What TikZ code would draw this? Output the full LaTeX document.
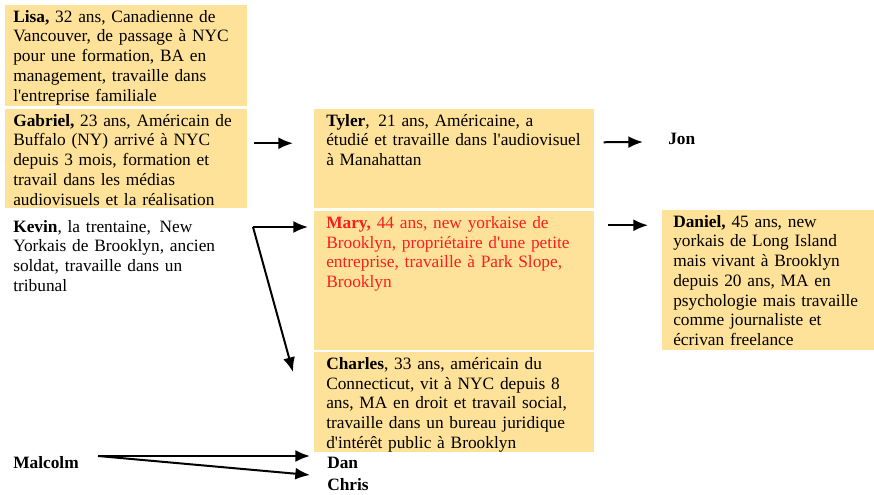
\documentclass[tikz,border=0pt]{standalone}
\usepackage{fontspec}
\setmainfont{Liberation Serif}
\usepackage{tikz}
\usetikzlibrary{arrows.meta,positioning}
\definecolor{cardyellow}{RGB}{255,226,153}
\definecolor{maryred}{RGB}{250,30,30}
\newcommand{\ap}{\textquotesingle}
\tikzset{
  card/.style={fill=cardyellow, anchor=north west, align=left, inner xsep=6pt, inner ysep=3pt, text height=9.75pt},
  who/.style={anchor=base west, inner sep=0pt},
  link/.style={-{Latex[length=11pt,width=9pt]}, line width=1.5pt}
}

\begin{document}
\begin{tikzpicture}[x=0.75pt, y=-0.75pt, font=\fontsize{13}{14.8}\selectfont]
  \useasboundingbox (0,0) rectangle (874,495);

  % left column
  \node (lisa) [card, text width=169.5pt, text depth=60pt] at (5,5)
    {\textbf{Lisa,} 32 ans, Canadienne de\\ Vancouver, de passage à NYC\\ pour une formation, BA en\\ management, travaille dans\\ l\ap entreprise familiale};
  \node (gabriel) [card, text width=169.5pt, text depth=58.5pt] at (5,109)
    {\textbf{Gabriel,} 23 ans, Américain de\\ Buffalo (NY) arrivé à NYC\\ depuis 3 mois, formation et\\ travail dans les médias\\ audiovisuels et la réalisation};
  \node (kevin) [card, fill=none, text width=169.5pt] at (5,215)
    {\textbf{Kevin}, la trentaine,\ \,New\\ Yorkais de Brooklyn, ancien\\ soldat, travaille dans un\\ tribunal};
  \node (malcolm) [who] at (13,468) {\textbf{Malcolm}};

  % middle column
  \node (tyler) [card, inner xsep=9pt, text width=192pt, text depth=58.5pt] at (314,109)
    {\textbf{Tyler},\ \,21 ans, Américaine, a\\ étudié et travaille dans l\ap audiovisuel\\ à Manahattan};
  \node (mary) [card, inner xsep=9pt, text width=192pt, text depth=88.5pt, text=maryred] at (314,211)
    {\textbf{Mary,} 44 ans, new yorkaise de\\ Brooklyn, propriétaire d\ap une petite\\ entreprise, travaille à Park Slope,\\ Brooklyn};
  \node (charles) [card, inner xsep=9pt, text width=192pt, text depth=59.25pt] at (314,352)
    {\textbf{Charles}, 33 ans, américain du\\ Connecticut, vit à NYC depuis 8\\ ans, MA en droit et travail social,\\ travaille dans un bureau juridique\\ d\ap intérêt public à Brooklyn};
  \node (dan) [who] at (327,468) {\textbf{Dan}};
  \node (chris) [who] at (327,490) {\textbf{Chris}};

  % right column
  \node (jon) [who] at (668,145) {\textbf{Jon}};
  \node (daniel) [card, inner xsep=8.25pt, text width=142.5pt, text depth=89.25pt] at (662,210)
    {\textbf{Daniel,} 45 ans, new\\ yorkais de Long Island\\ mais vivant à Brooklyn\\ depuis 20 ans, MA en\\ psychologie mais travaille\\ comme journaliste et\\ écrivan freelance};

  \coordinate (kfork) at (253,227);

  \draw[link] ([shift={(6,-15.5)}]gabriel.east) -- ([shift={(-21,-15.5)}]tyler.west);
  \draw[link] ([shift={(9,-16.5)}]tyler.east) -- ([shift={(-25,-3)}]jon.base west);
  \draw[link] ([shift={(13,-55.5)}]mary.east) -- ([shift={(-14,-55)}]daniel.west);
  \draw[link] (kfork) -- ([shift={(-6,16)}]mary.north west);
  \draw[link] (kfork) -- ([shift={(-21,20)}]charles.north west);
  \draw[link] ([shift={(85,-12)}]malcolm.base west) -- ([shift={(-17,-12)}]dan.base west);
  \draw[link] ([shift={(85,-12)}]malcolm.base west) -- ([shift={(-17,-15)}]chris.base west);
\end{tikzpicture}
\end{document}
